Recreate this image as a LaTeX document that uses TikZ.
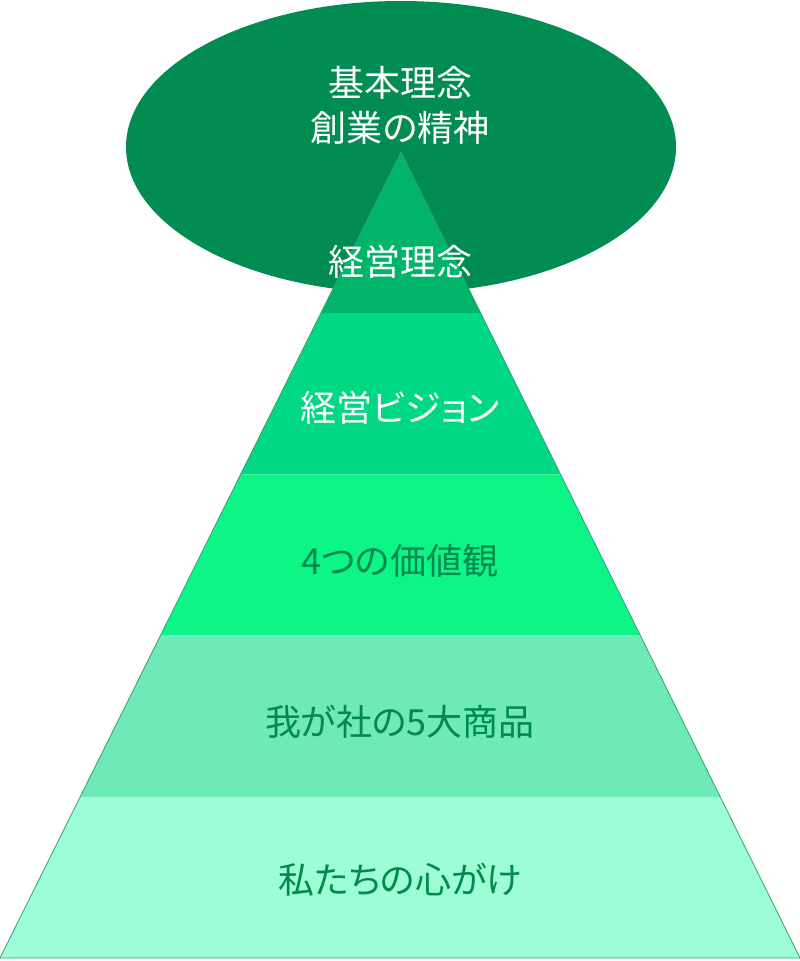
\documentclass[tikz,border=0pt]{standalone}
\usepackage{fontspec}
\setmainfont[RawFeature=+palt]{Noto Sans CJK JP}
\usepackage{tikz}
\usepackage{xcolor}
\usetikzlibrary{calc, positioning}

\definecolor{ovalgreen}{RGB}{0,140,83}
\definecolor{bandA}{RGB}{0,180,106}
\definecolor{bandB}{RGB}{0,216,132}
\definecolor{bandC}{RGB}{14,245,135}
\definecolor{bandD}{RGB}{110,233,184}
\definecolor{bandE}{RGB}{157,253,214}
\definecolor{edgegreen}{RGB}{52,160,114}
\definecolor{textdark}{RGB}{0,137,80}

\tikzset{
  lighttext/.style={font=\fontsize{36}{45}\selectfont, text=white, align=center},
  darktext/.style={font=\fontsize{36}{45}\selectfont, text=textdark, align=center}
}

\begin{document}
\begin{tikzpicture}[x=1pt, y=-1pt]
    \useasboundingbox (0,0) rectangle (800,961);
    % oval behind the pyramid
    \fill[ovalgreen] (401,147) ellipse [x radius=275, y radius=146];
    \coordinate (apex) at (401,152);
    \coordinate (bl) at (0,958);
    \coordinate (br) at (800,958);
    % pyramid bands, top to bottom
    \foreach \ta/\tb/\col in {0/0.2/bandA, 0.2/0.4/bandB, 0.4/0.6/bandC, 0.6/0.8/bandD, 0.8/1/bandE} {
      \fill[\col] ($(apex)!\ta!(bl)$) -- ($(apex)!\tb!(bl)$) -- ($(apex)!\tb!(br)$) -- ($(apex)!\ta!(br)$) -- cycle;
    }
    \draw[edgegreen, line width=0.8pt] (apex) -- (bl) -- (br) -- cycle;
    \node[lighttext] (kihon) at (400,105) {基本理念\\創業の精神};
    \node[lighttext] (keiei) at (400,262) {経営理念};
    \node[lighttext] (vision) at (400,408) {経営ビジョン};
    \node[darktext] (kachi) at (400,561) {4つの価値観};
    \node[darktext] (shohin) at (400,722) {我が社の5大商品};
    \node[darktext] (kokoro) at (400,880) {私たちの心がけ};
  \end{tikzpicture}
\end{document}
